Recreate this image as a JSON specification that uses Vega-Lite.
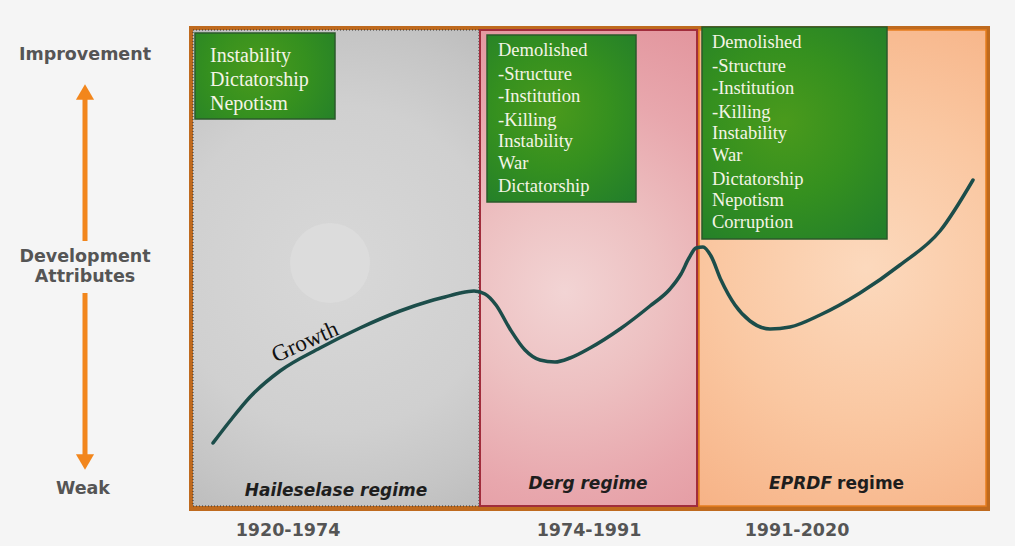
{
  "$schema": "https://vega.github.io/schema/vega-lite/v6.json",
  "autosize": {"type": "fit", "contains": "padding"},
  "width": 1015,
  "height": 546,
  "padding": 0,
  "background": "#f5f5f5",
  "config": {"view": {"stroke": null}},
  "encoding": {
    "x": {"field": "x", "type": "quantitative", "scale": {"domain": [0, 1015], "nice": false, "zero": false}, "axis": null},
    "y": {"field": "y", "type": "quantitative", "scale": {"domain": [0, 546], "nice": false, "zero": false, "reverse": true}, "axis": null}
  },
  "layer": [
    {
      "data": {"values": [{"x": 189, "x2": 990, "y": 26, "y2": 511}]},
      "mark": {"type": "rect", "fill": "#bf6a1e"},
      "encoding": {"x2": {"field": "x2"}, "y2": {"field": "y2"}}
    },
    {
      "data": {"values": [{"x": 193, "x2": 479, "y": 30, "y2": 506}]},
      "mark": {"type": "rect", "stroke": "#333333", "strokeWidth": 1, "strokeDash": [1, 2],
        "fill": {"gradient": "radial", "x1": 0.5, "y1": 0.5, "r1": 0, "x2": 0.5, "y2": 0.5, "r2": 0.62,
          "stops": [{"offset": 0, "color": "#d8d8d8"}, {"offset": 0.55, "color": "#d0d0d0"}, {"offset": 0.8, "color": "#c5c5c5"}, {"offset": 1, "color": "#bababa"}]}},
      "encoding": {"x2": {"field": "x2"}, "y2": {"field": "y2"}}
    },
    {
      "data": {"values": [{"x": 330, "y": 263}]},
      "mark": {"type": "point", "shape": "circle", "filled": true, "size": 6400, "color": "#dedede", "opacity": 0.7}
    },
    {
      "data": {"values": [{"x": 480, "x2": 697, "y": 30, "y2": 506}]},
      "mark": {"type": "rect", "stroke": "#a12d3c", "strokeWidth": 2,
        "fill": {"gradient": "radial", "x1": 0.45, "y1": 0.55, "r1": 0, "x2": 0.45, "y2": 0.55, "r2": 0.6,
          "stops": [{"offset": 0, "color": "#f2d4d4"}, {"offset": 0.35, "color": "#edc0c1"}, {"offset": 0.7, "color": "#e8a7ad"}, {"offset": 1, "color": "#e3979f"}]}},
      "encoding": {"x2": {"field": "x2"}, "y2": {"field": "y2"}}
    },
    {
      "data": {"values": [{"x": 699, "x2": 986, "y": 30, "y2": 506}]},
      "mark": {"type": "rect", "stroke": "#e67e1e", "strokeWidth": 1.5,
        "fill": {"gradient": "radial", "x1": 0.55, "y1": 0.5, "r1": 0, "x2": 0.55, "y2": 0.5, "r2": 0.65,
          "stops": [{"offset": 0, "color": "#fcd9bd"}, {"offset": 0.5, "color": "#fac7a1"}, {"offset": 1, "color": "#f6b083"}]}},
      "encoding": {"x2": {"field": "x2"}, "y2": {"field": "y2"}}
    },
    {
      "data": {"values": [
        {"x": 195, "x2": 335, "y": 33, "y2": 119},
        {"x": 487, "x2": 636, "y": 35, "y2": 202},
        {"x": 702, "x2": 887, "y": 27, "y2": 239}
      ]},
      "mark": {"type": "rect", "stroke": "#2b5a2b", "strokeWidth": 1.5,
        "fill": {"gradient": "radial", "x1": 0.45, "y1": 0.45, "r1": 0, "x2": 0.45, "y2": 0.45, "r2": 0.7,
          "stops": [{"offset": 0, "color": "#4a9a1c"}, {"offset": 0.5, "color": "#35901f"}, {"offset": 1, "color": "#237f2a"}]}},
      "encoding": {"x2": {"field": "x2"}, "y2": {"field": "y2"}}
    },
    {
      "data": {"values": [
        {"x": 210, "y": 56, "t": "Instability"},
        {"x": 210, "y": 80, "t": "Dictatorship"},
        {"x": 210, "y": 104, "t": "Nepotism"}
      ]},
      "mark": {"type": "text", "align": "left", "baseline": "middle", "font": "Liberation Serif", "fontSize": 20, "color": "#f4f4e6"},
      "encoding": {"text": {"field": "t"}}
    },
    {
      "data": {"values": [
        {"x": 498, "y": 50, "t": "Demolished"},
        {"x": 498, "y": 74, "t": "-Structure"},
        {"x": 498, "y": 96, "t": "-Institution"},
        {"x": 498, "y": 120, "t": "-Killing"},
        {"x": 498, "y": 141, "t": "Instability"},
        {"x": 498, "y": 163, "t": "War"},
        {"x": 498, "y": 186, "t": "Dictatorship"},
        {"x": 712, "y": 42, "t": "Demolished"},
        {"x": 712, "y": 66, "t": "-Structure"},
        {"x": 712, "y": 88, "t": "-Institution"},
        {"x": 712, "y": 112, "t": "-Killing"},
        {"x": 712, "y": 133, "t": "Instability"},
        {"x": 712, "y": 155, "t": "War"},
        {"x": 712, "y": 179, "t": "Dictatorship"},
        {"x": 712, "y": 200, "t": "Nepotism"},
        {"x": 712, "y": 222, "t": "Corruption"}
      ]},
      "mark": {"type": "text", "align": "left", "baseline": "middle", "font": "Liberation Serif", "fontSize": 18.5, "color": "#f4f4e6"},
      "encoding": {"text": {"field": "t"}}
    },
    {
      "data": {"values": [
        {"x": 213, "y": 443}, {"x": 230, "y": 421}, {"x": 250, "y": 397}, {"x": 280, "y": 371},
        {"x": 320, "y": 348}, {"x": 360, "y": 328}, {"x": 400, "y": 311}, {"x": 430, "y": 301},
        {"x": 445, "y": 297}, {"x": 460, "y": 293}, {"x": 474, "y": 291}, {"x": 485, "y": 294},
        {"x": 496, "y": 305}, {"x": 510, "y": 329}, {"x": 525, "y": 350}, {"x": 540, "y": 360},
        {"x": 555, "y": 362}, {"x": 570, "y": 358}, {"x": 590, "y": 348}, {"x": 620, "y": 329},
        {"x": 650, "y": 306}, {"x": 670, "y": 289}, {"x": 681, "y": 274}, {"x": 689, "y": 258},
        {"x": 696, "y": 248}, {"x": 703, "y": 247}, {"x": 711, "y": 256}, {"x": 721, "y": 280},
        {"x": 735, "y": 305}, {"x": 750, "y": 321}, {"x": 770, "y": 329}, {"x": 790, "y": 327},
        {"x": 820, "y": 315}, {"x": 860, "y": 293}, {"x": 900, "y": 265}, {"x": 940, "y": 231},
        {"x": 973, "y": 180}
      ]},
      "mark": {"type": "line", "interpolate": "monotone", "color": "#1c4d4a", "strokeWidth": 3.5, "strokeCap": "round"}
    },
    {
      "data": {"values": [{"x": 305, "y": 342, "t": "Growth"}]},
      "mark": {"type": "text", "angle": -24, "align": "center", "baseline": "middle", "font": "Liberation Serif", "fontSize": 23, "color": "#111111"},
      "encoding": {"text": {"field": "t"}}
    },
    {
      "data": {"values": [
        {"x": 336, "y": 491, "t": "Haileselase regime"},
        {"x": 588, "y": 484, "t": "Derg regime"}
      ]},
      "mark": {"type": "text", "align": "center", "baseline": "middle", "font": "DejaVu Sans", "fontStyle": "italic", "fontWeight": "bold", "fontSize": 17, "color": "#1e1e1e"},
      "encoding": {"text": {"field": "t"}}
    },
    {
      "data": {"values": [{"x": 832, "y": 484, "t": "EPRDF"}]},
      "mark": {"type": "text", "align": "right", "baseline": "middle", "font": "DejaVu Sans", "fontStyle": "italic", "fontWeight": "bold", "fontSize": 17, "color": "#1e1e1e"},
      "encoding": {"text": {"field": "t"}}
    },
    {
      "data": {"values": [{"x": 837, "y": 484, "t": "regime"}]},
      "mark": {"type": "text", "align": "left", "baseline": "middle", "font": "DejaVu Sans", "fontWeight": "bold", "fontSize": 17, "color": "#1e1e1e"},
      "encoding": {"text": {"field": "t"}}
    },
    {
      "data": {"values": [
        {"x": 288, "y": 531, "t": "1920-1974"},
        {"x": 589, "y": 531, "t": "1974-1991"},
        {"x": 797, "y": 531, "t": "1991-2020"}
      ]},
      "mark": {"type": "text", "align": "center", "baseline": "middle", "font": "DejaVu Sans", "fontWeight": "bold", "fontSize": 17.5, "color": "#555555"},
      "encoding": {"text": {"field": "t"}}
    },
    {
      "data": {"values": [
        {"x": 85, "y": 55, "t": "Improvement"},
        {"x": 85, "y": 257, "t": "Development"},
        {"x": 85, "y": 277, "t": "Attributes"},
        {"x": 83, "y": 489, "t": "Weak"}
      ]},
      "mark": {"type": "text", "align": "center", "baseline": "middle", "font": "DejaVu Sans", "fontWeight": "bold", "fontSize": 17.5, "color": "#555555"},
      "encoding": {"text": {"field": "t"}}
    },
    {
      "data": {"values": [
        {"x": 85, "y": 96, "y2": 241},
        {"x": 85, "y": 293, "y2": 458}
      ]},
      "mark": {"type": "rule", "color": "#f2861c", "strokeWidth": 5},
      "encoding": {"y2": {"field": "y2"}}
    },
    {
      "data": {"values": [{"x": 85, "y": 92, "s": "triangle-up"}, {"x": 85, "y": 462, "s": "triangle-down"}]},
      "mark": {"type": "point", "filled": true, "color": "#f2861c", "size": 330, "opacity": 1},
      "encoding": {"shape": {"field": "s", "type": "nominal", "scale": {"domain": ["triangle-up", "triangle-down"], "range": ["triangle-up", "triangle-down"]}, "legend": null}}
    }
  ]
}
